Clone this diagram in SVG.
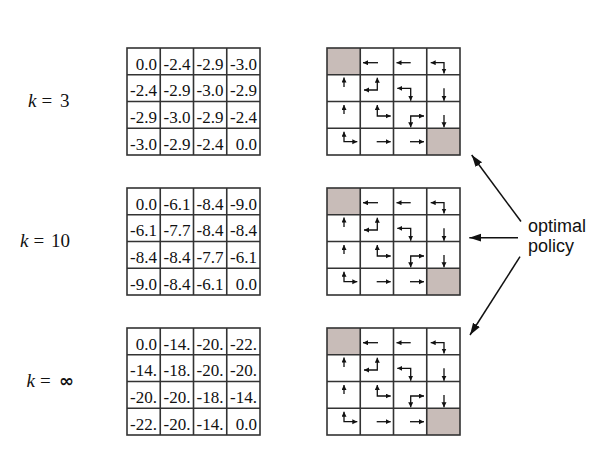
<svg xmlns="http://www.w3.org/2000/svg" xmlns:xlink="http://www.w3.org/1999/xlink" width="600" height="462" viewBox="0 0 600 462">
<style>
.grid{fill:none;stroke:#333;stroke-width:1.6}
.term{fill:#c8bcb8}
.val{font-family:"Liberation Serif","Times New Roman",serif;font-size:17px;fill:#111;text-anchor:end}
.pa{fill:none;stroke:#111;stroke-width:1.3;marker-end:url(#sh);marker-start:none}
.pa2{fill:none;stroke:#111;stroke-width:1.3;marker-end:url(#sh);marker-start:url(#sh)}
.math{font-family:"Liberation Serif","Times New Roman",serif;font-size:19px;fill:#111}
.lbl{font-family:"Liberation Sans",Arial,sans-serif;font-size:18px;fill:#111}
.conn{fill:none;stroke:#111;stroke-width:1.5;marker-end:url(#bh)}
</style>
<defs>
<marker id="sh" markerUnits="userSpaceOnUse" markerWidth="6" markerHeight="6" refX="5" refY="2.5" orient="auto-start-reverse"><path d="M0,0 L5,2.5 L0,5 z" fill="#111"/></marker>
<marker id="bh" markerUnits="userSpaceOnUse" markerWidth="14" markerHeight="10" refX="12" refY="4" orient="auto"><path d="M0,0 L12,4 L0,8 z" fill="#111"/></marker>
<g id="tgrid">
<rect x="127" y="48" width="133" height="107" class="grid"/>
<path class="grid" d="M160.25,48V155M193.5,48V155M226.75,48V155M127,74.75H260M127,101.5H260M127,128.25H260"/>
</g>
<g id="pgrid">
<rect x="327" y="48" width="33.25" height="26.75" class="term"/>
<rect x="426.75" y="128.25" width="33.25" height="26.75" class="term"/>
<rect x="327" y="48" width="133" height="107" class="grid"/>
<path class="grid" d="M360.25,48V155M393.5,48V155M426.75,48V155M327,74.75H460M327,101.5H460M327,128.25H460"/>
<path class="pa" d="M378,62.7H363"/>
<path class="pa" d="M410.7,62.7H396.5"/>
<path class="pa2" d="M430.7,62.7H444V73.5"/>
<path class="pa" d="M344,87V77.5"/>
<path class="pa2" d="M377.3,77.7V90H364"/>
<path class="pa2" d="M397.3,88.3H410.7V100.7"/>
<path class="pa" d="M444,88.3V100.7"/>
<path class="pa" d="M344,114V105"/>
<path class="pa2" d="M377.3,105V116H390.7"/>
<path class="pa2" d="M410.7,127.3V116H424"/>
<path class="pa" d="M444,115V127.3"/>
<path class="pa2" d="M344,131.7V141.7H357.3"/>
<path class="pa" d="M376.7,141.7H390.7"/>
<path class="pa" d="M410,141.7H424"/>
</g>
</defs>

<g id="label-k3" class="math"><text x="28" y="107"><tspan font-style="italic">k</tspan></text><text x="41.5" y="107">=</text><text x="60" y="107">3</text></g>
<g id="label-k10" class="math"><text x="20" y="247"><tspan font-style="italic">k</tspan></text><text x="33.5" y="247">=</text><text x="51" y="247">10</text></g>
<g id="label-kinf" class="math"><text x="26.5" y="387"><tspan font-style="italic">k</tspan></text><text x="40" y="387">=</text><text x="59" y="387" font-family="DejaVu Sans,sans-serif" font-weight="bold" font-size="18">∞</text></g>

<g id="values-k3">
<use xlink:href="#tgrid" href="#tgrid"/>
<g class="val">
<text x="157" y="69.5">0.0</text><text x="190.5" y="69.5">-2.4</text><text x="223.5" y="69.5">-2.9</text><text x="257" y="69.5">-3.0</text>
<text x="157" y="96.25">-2.4</text><text x="190.5" y="96.25">-2.9</text><text x="223.5" y="96.25">-3.0</text><text x="257" y="96.25">-2.9</text>
<text x="157" y="123">-2.9</text><text x="190.5" y="123">-3.0</text><text x="223.5" y="123">-2.9</text><text x="257" y="123">-2.4</text>
<text x="157" y="149.75">-3.0</text><text x="190.5" y="149.75">-2.9</text><text x="223.5" y="149.75">-2.4</text><text x="257" y="149.75">0.0</text>
</g>
</g>

<g id="values-k10" transform="translate(0,140)">
<use xlink:href="#tgrid" href="#tgrid"/>
<g class="val">
<text x="157" y="69.5">0.0</text><text x="190.5" y="69.5">-6.1</text><text x="223.5" y="69.5">-8.4</text><text x="257" y="69.5">-9.0</text>
<text x="157" y="96.25">-6.1</text><text x="190.5" y="96.25">-7.7</text><text x="223.5" y="96.25">-8.4</text><text x="257" y="96.25">-8.4</text>
<text x="157" y="123">-8.4</text><text x="190.5" y="123">-8.4</text><text x="223.5" y="123">-7.7</text><text x="257" y="123">-6.1</text>
<text x="157" y="149.75">-9.0</text><text x="190.5" y="149.75">-8.4</text><text x="223.5" y="149.75">-6.1</text><text x="257" y="149.75">0.0</text>
</g>
</g>

<g id="values-kinf" transform="translate(0,280)">
<use xlink:href="#tgrid" href="#tgrid"/>
<g class="val">
<text x="157" y="69.5">0.0</text><text x="190.5" y="69.5">-14.</text><text x="223.5" y="69.5">-20.</text><text x="257" y="69.5">-22.</text>
<text x="157" y="96.25">-14.</text><text x="190.5" y="96.25">-18.</text><text x="223.5" y="96.25">-20.</text><text x="257" y="96.25">-20.</text>
<text x="157" y="123">-20.</text><text x="190.5" y="123">-20.</text><text x="223.5" y="123">-18.</text><text x="257" y="123">-14.</text>
<text x="157" y="149.75">-22.</text><text x="190.5" y="149.75">-20.</text><text x="223.5" y="149.75">-14.</text><text x="257" y="149.75">0.0</text>
</g>
</g>

<g id="policy-k3"><use xlink:href="#pgrid" href="#pgrid"/></g>
<g id="policy-k10" transform="translate(0,140)"><use xlink:href="#pgrid" href="#pgrid"/></g>
<g id="policy-kinf" transform="translate(0,280)"><use xlink:href="#pgrid" href="#pgrid"/></g>

<g id="optimal-policy" class="lbl"><text x="528" y="232">optimal</text><text x="528" y="252">policy</text></g>

<g id="connectors">
<path class="conn" d="M521,221.5L471.7,155"/>
<path class="conn" d="M518,237.7H469.3"/>
<path class="conn" d="M520,256.7L470,335"/>
</g>
</svg>
